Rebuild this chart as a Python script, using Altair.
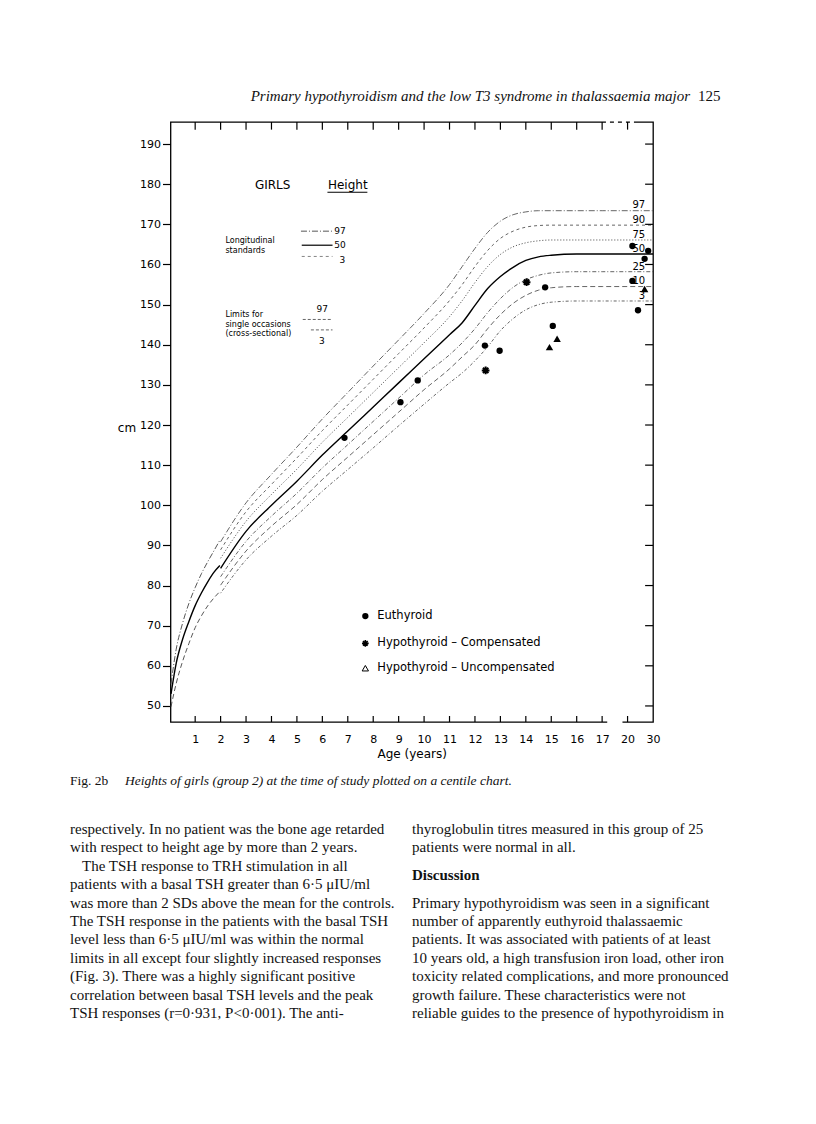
import altair as alt
import pandas as pd

SANS = "DejaVu Sans"
SERIF = "Liberation Serif"

# ---------------- data ----------------
# axis ticks (x in chart position units: 1..17 = years, 18 = 20 years, 19 = 30 years)
tick_pos = list(range(1, 20))
y_ticks = list(range(50, 200, 10))

# centile curves, ages 2 -> 30
mid_ages = [2, 3, 4, 5, 6, 7, 8, 9, 10, 11, 11.5, 12, 12.5, 13, 13.5, 14, 14.5, 15, 16, 17, 20, 30]
mid_97 = [90.9, 100.6, 107.7, 114.5, 121.5, 128.1, 134.7, 141.2, 147.8, 155.0, 159.5, 164.0, 168.0, 170.8, 172.4, 173.1, 173.4, 173.4, 173.4, 173.4, 173.4, 173.4]
mid_90 = [88.9, 98.4, 105.2, 111.8, 118.6, 125.0, 131.4, 137.8, 144.2, 151.0, 155.0, 159.5, 163.5, 166.5, 168.3, 169.3, 169.7, 169.8, 169.8, 169.8, 169.8, 169.8]
mid_75 = [86.8, 96.0, 102.7, 109.0, 115.7, 121.9, 128.1, 134.3, 140.5, 147.0, 151.0, 155.5, 159.5, 162.5, 164.4, 165.4, 165.9, 166.1, 166.1, 166.1, 166.1, 166.1]
mid_50 = [84.3, 93.5, 100.0, 106.0, 112.5, 118.5, 124.5, 130.5, 136.5, 142.5, 145.5, 149.8, 154.0, 157.0, 159.3, 161.0, 161.9, 162.3, 162.6, 162.6, 162.6, 162.6]
mid_25 = [82.2, 91.0, 97.3, 103.0, 109.3, 115.1, 120.9, 126.7, 132.5, 137.5, 140.5, 144.0, 148.0, 151.5, 154.3, 156.2, 157.3, 157.9, 158.2, 158.2, 158.2, 158.2]
mid_10 = [80.1, 88.6, 94.8, 100.2, 106.4, 112.0, 117.6, 123.2, 128.8, 134.0, 137.0, 140.0, 144.0, 147.5, 150.3, 152.3, 153.6, 154.2, 154.5, 154.5, 154.5, 154.5]
mid_3 = [78.1, 86.4, 92.3, 97.5, 103.5, 108.9, 114.3, 119.8, 125.2, 130.5, 133.0, 136.0, 139.5, 143.5, 146.5, 148.7, 150.0, 150.6, 150.9, 150.9, 150.9, 150.9]

# infant curves, birth -> 2 years
early_ages = [0.05, 0.25, 0.5, 0.75, 1.0, 1.25, 1.5, 1.75, 1.97]
early_97 = [55.5, 64.0, 70.5, 75.5, 79.5, 83.0, 86.0, 88.8, 91.3]
early_50 = [53.0, 60.5, 66.5, 71.0, 75.0, 78.2, 81.0, 83.4, 85.0]
early_3 = [49.8, 55.5, 61.0, 65.5, 69.5, 72.5, 75.0, 77.0, 78.5]

# patients (age in years, height in cm)
eu_age = [6.87, 9.07, 9.75, 12.39, 12.97, 14.76, 15.06, 21.9, 28.1, 26.7, 21.9, 24.1]
eu_h = [116.8, 125.7, 131.1, 139.8, 138.5, 154.3, 144.7, 164.6, 163.4, 161.4, 155.9, 148.6]
comp_age = [14.03, 12.42]
comp_h = [155.6, 133.6]
uncomp_age = [15.23, 14.93, 26.7]
uncomp_h = [141.5, 139.4, 153.9]

# centile labels at right
cent_labels = ["97", "90", "75", "50", "25", "10", "3"]
cent_label_h = [174.8, 171.1, 167.3, 163.8, 159.4, 155.9, 152.1]

# ---------------- styles ----------------
line_styles = {
    "e97": dict(strokeDash=[6, 2, 1, 2], color="#444", strokeWidth=0.9),
    "e50": dict(color="black", strokeWidth=1.4),
    "e3": dict(strokeDash=[5, 3], color="#444", strokeWidth=0.9),
    "m97": dict(strokeDash=[6, 2, 1, 2], color="#555", strokeWidth=0.9),
    "m90": dict(strokeDash=[3, 3], color="#555", strokeWidth=0.9),
    "m75": dict(strokeDash=[1, 2], color="#444", strokeWidth=1.0),
    "m50": dict(color="black", strokeWidth=1.4),
    "m25": dict(strokeDash=[4, 2, 1, 2], color="#555", strokeWidth=0.9),
    "m10": dict(strokeDash=[5, 3], color="#555", strokeWidth=0.9),
    "m3": dict(strokeDash=[1, 2, 3, 2], color="#555", strokeWidth=0.9),
}

series = {
    "e97": (early_ages, early_97), "e50": (early_ages, early_50), "e3": (early_ages, early_3),
    "m97": (mid_ages, mid_97), "m90": (mid_ages, mid_90), "m75": (mid_ages, mid_75),
    "m50": (mid_ages, mid_50), "m25": (mid_ages, mid_25), "m10": (mid_ages, mid_10),
    "m3": (mid_ages, mid_3),
}

rows = []
for k, (a_list, h_list) in series.items():
    for a, h in zip(a_list, h_list):
        rows.append({"series": k, "age": a, "h": h})
lines_df = pd.DataFrame(rows)

POS = "datum.age <= 17 ? datum.age : (datum.age <= 20 ? 17 + (datum.age - 17) / 3 : 18 + (datum.age - 20) / 10)"

W, H = 482.5, 600

xscale = alt.Scale(domain=[0.03, 19], nice=False, zero=False)
yscale = alt.Scale(domain=[46, 195.5], nice=False, zero=False)
xaxis = alt.Axis(values=tick_pos,
                 labelExpr="datum.value == 18 ? '20' : (datum.value == 19 ? '30' : datum.label)",
                 ticks=False, domain=False, grid=False, labelPadding=11, labelFont=SANS,
                 labelFontSize=11, labelColor="black", labelOverlap=False, labelFlush=False,
                 title="Age  (years)", titleFont=SANS, titleFontSize=12, titleFontWeight="normal",
                 titlePadding=4, titleColor="black")
yaxis = alt.Axis(values=y_ticks, tickSize=8, tickColor="black", tickWidth=1.2, domain=False,
                 grid=False, labelPadding=2, labelFont=SANS, labelFontSize=11, labelColor="black",
                 labelOverlap=False, labelFlush=False,
                 title="cm", titleAngle=0, titleX=-44, titleY=305, titleAlign="center",
                 titleBaseline="middle", titleFont=SANS, titleFontSize=12, titleFontWeight="normal",
                 titleColor="black")
X = alt.X("pos:Q", scale=xscale, axis=xaxis)
Y = alt.Y("h:Q", scale=yscale, axis=yaxis)

layers = []

# curves
for k, st in line_styles.items():
    layers.append(
        alt.Chart(lines_df).transform_filter(alt.datum.series == k)
        .transform_calculate(pos=POS)
        .mark_line(interpolate="monotone", **st)
        .encode(x=X, y=Y, order="age:Q")
    )

# inner ticks (bottom, top, right)
bt = pd.DataFrame({"pos": tick_pos[:-1], "h": [46] * 18, "h2": [47.5] * 18})
tt = pd.DataFrame({"pos": tick_pos[:-1], "h": [195.5] * 18, "h2": [193.6] * 18})
rt = pd.DataFrame({"pos": [18.69] * len(y_ticks), "pos2": [19] * len(y_ticks), "h": y_ticks})
layers.append(alt.Chart(bt).mark_rule(color="black", strokeWidth=1.2).encode(x=X, y=Y, y2="h2:Q"))
layers.append(alt.Chart(tt).mark_rule(color="black", strokeWidth=1.2).encode(x=X, y=Y, y2="h2:Q"))
layers.append(alt.Chart(rt).mark_rule(color="black", strokeWidth=1.2).encode(x=X, x2="pos2:Q", y=Y))

# broken axis between 17 and 20
gap = pd.DataFrame({"pos": [17.2], "pos2": [17.8], "h": [46]})
layers.append(alt.Chart(gap).mark_rule(color="white", strokeWidth=3).encode(x=X, x2="pos2:Q", y=Y))
gapt = pd.DataFrame({"pos": [17.15], "pos2": [18.3], "h": [195.5]})
layers.append(alt.Chart(gapt).mark_rule(color="white", strokeWidth=3, strokeDash=[4, 4]).encode(x=X, x2="pos2:Q", y=Y))

# patients
eu_df = pd.DataFrame({"age": eu_age, "h": eu_h})
comp_df = pd.DataFrame({"age": comp_age, "h": comp_h})
unc_df = pd.DataFrame({"age": uncomp_age, "h": uncomp_h})
ASTER = "M-1,0L1,0M0,-1L0,1M-0.7,-0.7L0.7,0.7M-0.7,0.7L0.7,-0.7"
layers.append(alt.Chart(eu_df).transform_calculate(pos=POS)
              .mark_point(shape="circle", filled=True, size=40, color="black", opacity=1)
              .encode(x=X, y=Y))
layers.append(alt.Chart(comp_df).transform_calculate(pos=POS)
              .mark_point(shape=ASTER, filled=False, size=60, color="black", strokeWidth=2, opacity=1)
              .encode(x=X, y=Y))
layers.append(alt.Chart(unc_df).transform_calculate(pos=POS)
              .mark_point(shape="triangle-up", filled=True, size=55, color="black", opacity=1)
              .encode(x=X, y=Y))

# centile labels at right
cl_df = pd.DataFrame({"pos": [18.69] * 7, "h": cent_label_h, "t": cent_labels})
layers.append(alt.Chart(cl_df).mark_text(font=SANS, fontSize=10, align="right", baseline="middle", color="black")
              .encode(x=X, y=Y, text="t:N"))

# in-chart key (upper left)
key_text = pd.DataFrame({
    "pos": [3.35, 6.22, 2.19, 2.19, 2.19, 2.19, 2.19, 6.47, 6.47, 6.67, 5.77, 5.87],
    "h": [179.8, 179.8, 165.8, 163.3, 147.4, 145.0, 142.7, 168.3, 164.8, 161.0, 148.9, 141.0],
    "t": ["GIRLS", "Height", "Longitudinal", "standards", "Limits for", "single occasions",
          "(cross-sectional)", "97", "50", "3", "97", "3"],
    "sz": [12, 12, 8, 8, 8, 8, 8, 9, 9, 9, 9, 9],
})
layers.append(alt.Chart(key_text).mark_text(font=SANS, align="left", baseline="middle", color="black")
              .encode(x=X, y=Y, text="t:N", size=alt.Size("sz:Q", scale=None, legend=None)))
key_lines = pd.DataFrame({
    "pos": [5.16, 5.19, 5.19, 5.23, 5.55],
    "pos2": [6.4, 6.4, 6.4, 6.4, 6.4],
    "h": [168.3, 164.8, 162.0, 146.3, 143.7],
    "k": ["a", "b", "c", "d", "e"],
})
key_styles = {
    "a": dict(strokeDash=[6, 2, 1, 2], color="#444", strokeWidth=0.9),
    "b": dict(color="black", strokeWidth=1.2),
    "c": dict(strokeDash=[3, 3], color="#777", strokeWidth=0.9),
    "d": dict(strokeDash=[3, 2], color="#555", strokeWidth=0.9),
    "e": dict(strokeDash=[3, 2], color="#555", strokeWidth=0.9),
}
for k, st in key_styles.items():
    layers.append(alt.Chart(key_lines).transform_filter(alt.datum.k == k)
                  .mark_rule(**st).encode(x=X, x2="pos2:Q", y=Y))
ul = pd.DataFrame({"pos": [6.2], "pos2": [7.77], "h": [178.0]})
layers.append(alt.Chart(ul).mark_rule(color="black", strokeWidth=1.2).encode(x=X, x2="pos2:Q", y=Y))

# symbol key (lower)
leg_pos = [7.69, 7.69, 7.69]
leg_h = [72.4, 65.6, 59.4]
leg_txt = ["Euthyroid", "Hypothyroid \u2013 Compensated", "Hypothyroid  \u2013 Uncompensated"]
lp = pd.DataFrame({"pos": leg_pos, "h": leg_h})
layers.append(alt.Chart(lp.iloc[[0]]).mark_point(shape="circle", filled=True, size=40, color="black", opacity=1)
              .encode(x=X, y=Y))
layers.append(alt.Chart(lp.iloc[[1]]).mark_point(shape=ASTER, filled=False, size=45, color="black", strokeWidth=1.6, opacity=1)
              .encode(x=X, y=Y))
layers.append(alt.Chart(lp.iloc[[2]]).mark_point(shape="triangle-up", filled=False, size=40, color="black", strokeWidth=1, opacity=1)
              .encode(x=X, y=Y))
lt = pd.DataFrame({"pos": [8.16] * 3, "h": leg_h, "t": leg_txt})
layers.append(alt.Chart(lt).mark_text(font=SANS, fontSize=11.5, align="left", baseline="middle", color="black")
              .encode(x=X, y=Y, text="t:N"))

# ---------------- page text (header, caption, body) ----------------
one = pd.DataFrame({"a": [0]})


def ptext(txt, x, y, size, style="normal", weight="normal", align="left", lh=None):
    kw = dict(font=SERIF, fontSize=size, fontStyle=style, fontWeight=weight, align=align,
              baseline="alphabetic", color="#111")
    if lh is not None:
        kw["lineHeight"] = lh
    return alt.Chart(one).mark_text(**kw).encode(x=alt.value(x), y=alt.value(y), text=alt.value(txt))


header = "Primary hypothyroidism and the low T3 syndrome in thalassaemia major"
caption_a = "Fig. 2b"
caption_b = "Heights of girls (group 2) at the time of study plotted on a centile chart."
col1a = [
    "respectively. In no patient was the bone age retarded",
    "with respect to height age by more than 2 years.",
]
col1b = "The TSH response to TRH stimulation in all"
col1c = [
    "patients with a basal TSH greater than 6\u00b75 \u03bcIU/ml",
    "was more than 2 SDs above the mean for the controls.",
    "The TSH response in the patients with the basal TSH",
    "level less than 6\u00b75 \u03bcIU/ml was within the normal",
    "limits in all except four slightly increased responses",
    "(Fig. 3). There was a highly significant positive",
    "correlation between basal TSH levels and the peak",
    "TSH responses (r=0\u00b7931, P<0\u00b7001). The anti-",
]
col2a = [
    "thyroglobulin titres measured in this group of 25",
    "patients were normal in all.",
]
col2b = [
    "Primary hypothyroidism was seen in a significant",
    "number of apparently euthyroid thalassaemic",
    "patients. It was associated with patients of at least",
    "10 years old, a high transfusion iron load, other iron",
    "toxicity related complications, and more pronounced",
    "growth failure. These characteristics were not",
    "reliable guides to the presence of hypothyroidism in",
]

LH = 18.4
BODY = 15
layers.append(ptext(header, 519.5, -21, 15, style="italic", align="right"))
layers.append(ptext("125", 527.5, -21, 15))
layers.append(ptext(caption_a, -100.5, 663, 13.5))
layers.append(ptext(caption_b, -45.5, 663, 13.5, style="italic"))
layers.append(ptext(col1a, -100.5, 712, BODY, lh=LH))
layers.append(ptext(col1b, -88.5, 712 + 2 * LH, BODY))
layers.append(ptext(col1c, -100.5, 712 + 3 * LH, BODY, lh=LH))
layers.append(ptext(col2a, 241.5, 712, BODY, lh=LH))
layers.append(ptext("Discussion", 241.5, 758, BODY, weight="bold"))
layers.append(ptext(col2b, 241.5, 785.6, BODY, lh=LH))

chart = alt.layer(*layers).properties(
    width=W, height=H,
    autosize=alt.AutoSizeParams(type="none"),
    padding={"left": 162.5, "top": 114, "right": 155, "bottom": 394},
    background="white",
).configure_view(stroke="black", strokeWidth=1.3)

chart.save("out.html", embed_options={"renderer": "svg", "actions": False})
